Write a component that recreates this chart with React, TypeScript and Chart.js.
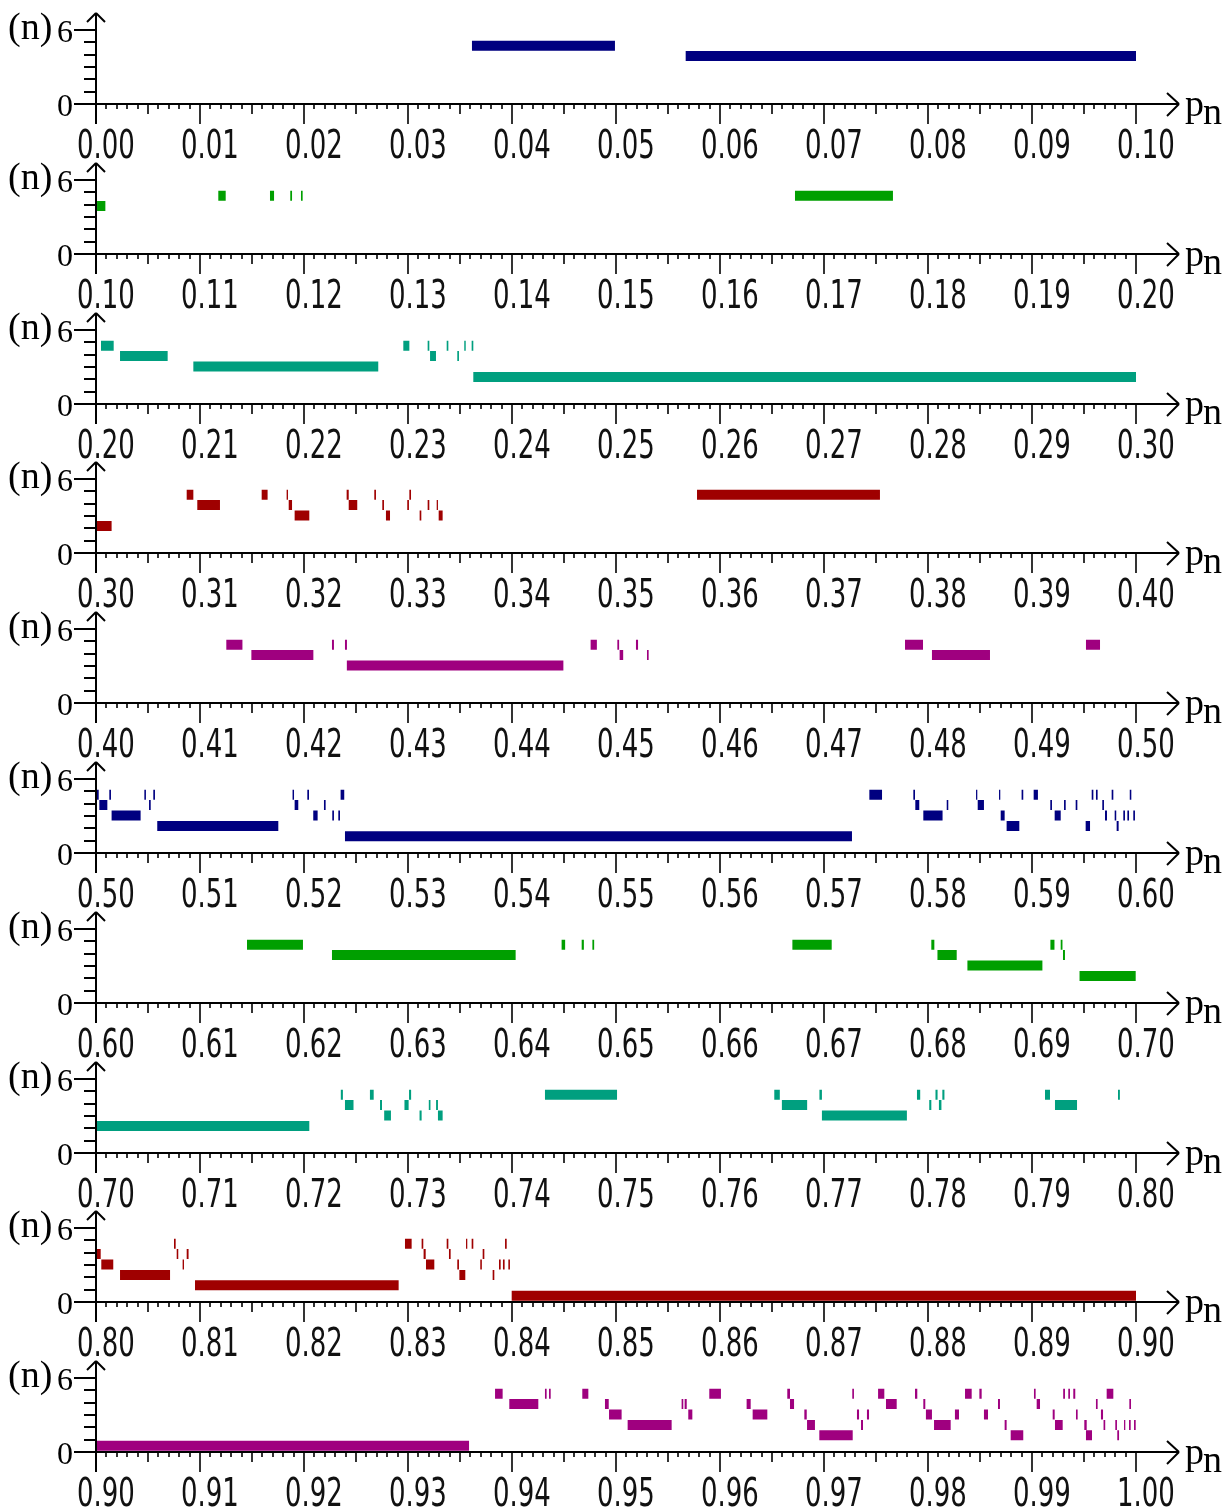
import { useEffect, useRef } from "react";
import { Chart, registerables } from "chart.js";

Chart.register(...registerables);

type Seg = [number, number, number]; // [p start, p end, level index]

const PANEL_STARTS = [0.0, 0.1, 0.2, 0.3, 0.4, 0.5, 0.6, 0.7, 0.8, 0.9];
const PANEL_COLORS = ["#000080", "#009F00", "#009F7F", "#9F0000", "#9F007F", "#000080", "#009F00", "#009F7F", "#9F0000", "#9F007F"];
// n-axis value (centre) of each level, index 1..6
const LEVELS = [0, 4.73, 3.885, 3.04, 2.195, 1.35, 0.505];
const Y_TICKS = [0, 1, 2, 3, 4, 5, 6];
const Y_TICK_LABELS = ["0", "", "", "", "", "", "6"];
const X_TICK_LABELS = [
  "0.00", "0.01", "0.02", "0.03", "0.04", "0.05", "0.06", "0.07", "0.08", "0.09",
  "0.10", "0.11", "0.12", "0.13", "0.14", "0.15", "0.16", "0.17", "0.18", "0.19",
  "0.20", "0.21", "0.22", "0.23", "0.24", "0.25", "0.26", "0.27", "0.28", "0.29",
  "0.30", "0.31", "0.32", "0.33", "0.34", "0.35", "0.36", "0.37", "0.38", "0.39",
  "0.40", "0.41", "0.42", "0.43", "0.44", "0.45", "0.46", "0.47", "0.48", "0.49",
  "0.50", "0.51", "0.52", "0.53", "0.54", "0.55", "0.56", "0.57", "0.58", "0.59",
  "0.60", "0.61", "0.62", "0.63", "0.64", "0.65", "0.66", "0.67", "0.68", "0.69",
  "0.70", "0.71", "0.72", "0.73", "0.74", "0.75", "0.76", "0.77", "0.78", "0.79",
  "0.80", "0.81", "0.82", "0.83", "0.84", "0.85", "0.86", "0.87", "0.88", "0.89",
  "0.90", "0.91", "0.92", "0.93", "0.94", "0.95", "0.96", "0.97", "0.98", "0.99",
  "1.00",
];

const SEG_P1: Seg[] = [
  [0.03615, 0.0499, 1], [0.0567, 0.1, 2],
];
const SEG_P2: Seg[] = [
  [0.1001, 0.1009, 2], [0.11176, 0.11247, 1], [0.11673, 0.11712, 1], [0.11868, 0.11885, 1],
  [0.11971, 0.11987, 1], [0.16721, 0.17663, 1],
];
const SEG_P3: Seg[] = [
  [0.20048, 0.2017, 1], [0.20231, 0.20689, 2], [0.20936, 0.22714, 3], [0.22955, 0.23013, 1],
  [0.23189, 0.23205, 1], [0.23212, 0.23269, 2], [0.23372, 0.23388, 1], [0.23474, 0.2349, 2],
  [0.23541, 0.23555, 1], [0.23612, 0.23628, 1], [0.23628, 0.3, 4],
];
const SEG_P4: Seg[] = [
  [0.30001, 0.3015, 4], [0.30872, 0.30936, 1], [0.30974, 0.31192, 2], [0.31593, 0.3165, 1],
  [0.31833, 0.31846, 1], [0.31853, 0.31885, 2], [0.3191, 0.32051, 3], [0.3241, 0.3243, 1],
  [0.3243, 0.32512, 2], [0.32676, 0.32692, 1], [0.32753, 0.32769, 2], [0.32788, 0.32827, 3],
  [0.32993, 0.33009, 2], [0.33013, 0.33029, 1], [0.33112, 0.33128, 3], [0.33189, 0.33205, 2],
  [0.33276, 0.33288, 2], [0.33295, 0.33333, 3], [0.35779, 0.37538, 1],
];
const SEG_P5: Seg[] = [
  [0.41253, 0.41408, 1], [0.41494, 0.4209, 2], [0.42269, 0.42288, 1], [0.42394, 0.42413, 1],
  [0.42412, 0.44494, 3], [0.44756, 0.44816, 1], [0.45013, 0.4503, 1], [0.45035, 0.45069, 2],
  [0.45192, 0.45212, 1], [0.45298, 0.45314, 2], [0.47779, 0.47952, 1], [0.48038, 0.48596, 2],
  [0.49519, 0.49654, 1],
];
const SEG_P6: Seg[] = [
  [0.50001, 0.50026, 1], [0.50032, 0.50109, 2], [0.50128, 0.50144, 1], [0.5015, 0.50429, 3],
  [0.50465, 0.5048, 1], [0.5051, 0.50526, 2], [0.50551, 0.50567, 1], [0.50589, 0.51753, 4],
  [0.5189, 0.51904, 1], [0.5191, 0.51945, 2], [0.52032, 0.52048, 1], [0.52089, 0.52131, 3],
  [0.52192, 0.52208, 2], [0.52272, 0.52288, 3], [0.5233, 0.52346, 3], [0.52352, 0.52387, 1],
  [0.52394, 0.57269, 5], [0.57436, 0.57558, 1], [0.57859, 0.57875, 1], [0.57878, 0.57916, 2],
  [0.57955, 0.5814, 3], [0.5818, 0.58195, 2], [0.58462, 0.58474, 1], [0.58478, 0.58538, 2],
  [0.58683, 0.58695, 1], [0.58699, 0.58737, 3], [0.58756, 0.58878, 4], [0.589, 0.58916, 1],
  [0.59016, 0.59057, 1], [0.59176, 0.59192, 2], [0.59218, 0.59276, 3], [0.59308, 0.59324, 2],
  [0.5942, 0.59436, 2], [0.59516, 0.59558, 4], [0.59574, 0.5959, 1], [0.59615, 0.59631, 1],
  [0.59676, 0.59692, 2], [0.59702, 0.59721, 3], [0.59766, 0.59782, 1], [0.59795, 0.5981, 3],
  [0.59814, 0.59833, 4], [0.59878, 0.59894, 3], [0.59917, 0.59933, 3], [0.5994, 0.59955, 1],
  [0.59974, 0.5999, 3],
];
const SEG_P7: Seg[] = [
  [0.61452, 0.6199, 1], [0.62269, 0.64035, 2], [0.64477, 0.64511, 1], [0.6467, 0.64691, 1],
  [0.64773, 0.6479, 1], [0.66696, 0.67074, 1], [0.68032, 0.68061, 1], [0.68091, 0.68276, 2],
  [0.68379, 0.691, 3], [0.69177, 0.69216, 1], [0.69276, 0.69293, 1], [0.69298, 0.69317, 2],
  [0.69457, 0.69997, 4],
];
const SEG_P8: Seg[] = [
  [0.7, 0.72051, 4], [0.72354, 0.72374, 1], [0.72394, 0.72476, 2], [0.72634, 0.7267, 1],
  [0.72731, 0.7275, 2], [0.72771, 0.72836, 3], [0.72966, 0.73006, 2], [0.7301, 0.7303, 1],
  [0.73111, 0.73131, 3], [0.732, 0.73216, 2], [0.7327, 0.73288, 2], [0.73288, 0.73333, 3],
  [0.74317, 0.7501, 1], [0.76522, 0.76575, 1], [0.76595, 0.76838, 2], [0.76956, 0.7698, 1],
  [0.7698, 0.77797, 3], [0.77894, 0.77925, 1], [0.78012, 0.78032, 2], [0.78072, 0.78092, 1],
  [0.78105, 0.78129, 2], [0.78138, 0.78158, 1], [0.79125, 0.79173, 1], [0.79221, 0.79433, 2],
  [0.79827, 0.79845, 1],
];
const SEG_P9: Seg[] = [
  [0.80001, 0.80045, 2], [0.80051, 0.80166, 3], [0.80231, 0.80712, 4], [0.8075, 0.80766, 1],
  [0.80776, 0.80791, 2], [0.80833, 0.80846, 3], [0.80872, 0.8089, 2], [0.80952, 0.8291, 5],
  [0.82971, 0.83035, 1], [0.83131, 0.83147, 1], [0.8315, 0.8317, 2], [0.83173, 0.83253, 3],
  [0.83372, 0.83388, 1], [0.83394, 0.8341, 2], [0.83474, 0.8349, 3], [0.83494, 0.83551, 4],
  [0.83558, 0.8357, 1], [0.83612, 0.83628, 1], [0.83695, 0.8371, 3], [0.83718, 0.83734, 2],
  [0.83814, 0.8383, 4], [0.83875, 0.83891, 3], [0.83913, 0.83929, 3], [0.83933, 0.83949, 1],
  [0.83965, 0.8398, 3], [0.83997, 0.9, 6],
];
const SEG_P10: Seg[] = [
  [0.9, 0.93587, 6], [0.93837, 0.9391, 1], [0.93974, 0.94253, 2], [0.94317, 0.94333, 1],
  [0.94356, 0.94372, 1], [0.94676, 0.94734, 1], [0.94894, 0.9493, 2], [0.94933, 0.95054, 3],
  [0.95112, 0.95535, 4], [0.95631, 0.95647, 2], [0.9566, 0.9568, 2], [0.95695, 0.95734, 3],
  [0.95897, 0.96009, 1], [0.96256, 0.96295, 2], [0.96314, 0.96455, 3], [0.96647, 0.96673, 1],
  [0.96673, 0.96712, 2], [0.96811, 0.96834, 3], [0.96837, 0.96913, 4], [0.96955, 0.97276, 5],
  [0.97272, 0.97288, 1], [0.97317, 0.97337, 3], [0.97356, 0.97375, 4], [0.97413, 0.97433, 3],
  [0.9752, 0.9758, 1], [0.97596, 0.97699, 2], [0.97875, 0.97897, 1], [0.97955, 0.97974, 2],
  [0.9798, 0.98038, 3], [0.98058, 0.98218, 4], [0.98259, 0.98298, 3], [0.98356, 0.9842, 1],
  [0.98494, 0.98516, 1], [0.98538, 0.98577, 3], [0.98673, 0.98692, 2], [0.98737, 0.98756, 4],
  [0.98795, 0.98916, 5], [0.99019, 0.99035, 1], [0.99045, 0.99077, 2], [0.99199, 0.99218, 3],
  [0.99221, 0.99295, 4], [0.993, 0.99317, 1], [0.99349, 0.99365, 1], [0.99397, 0.99416, 1],
  [0.99423, 0.99439, 3], [0.99503, 0.99526, 4], [0.99519, 0.99577, 5], [0.99615, 0.99631, 2],
  [0.99663, 0.99683, 3], [0.99688, 0.99704, 4], [0.99718, 0.99782, 1], [0.99801, 0.99817, 4],
  [0.9982, 0.99837, 5], [0.99885, 0.99897, 4], [0.99936, 0.99952, 2], [0.99933, 0.99949, 4],
  [0.99981, 0.99997, 4],
];
const SEGMENTS = [SEG_P1, SEG_P2, SEG_P3, SEG_P4, SEG_P5, SEG_P6, SEG_P7, SEG_P8, SEG_P9, SEG_P10];

const PANEL_PITCH = 149.8;
const CANVAS_W = 1232;
const CANVAS_H = 165;

const axesPlugin = {
  id: "axesPlugin",
  afterDatasetsDraw(chart: any, _args: any, opts: any) {
    const ctx: CanvasRenderingContext2D = chart.ctx;
    const xs = chart.scales.x;
    const ys = chart.scales.y;
    const start: number = opts.start;
    const labels: string[] = opts.labels;
    const x0 = Math.round(xs.getPixelForValue(start));
    const x1 = Math.round(xs.getPixelForValue(start + 0.1));
    const yz = Math.round(ys.getPixelForValue(0));
    const y6 = Math.round(ys.getPixelForValue(6));
    const line = (ax: number, ay: number, bx: number, by: number) => {
      ctx.beginPath();
      ctx.moveTo(ax, ay);
      ctx.lineTo(bx, by);
      ctx.stroke();
    };
    ctx.save();
    ctx.strokeStyle = "#000";
    ctx.fillStyle = "#000";
    ctx.lineWidth = 2;
    ctx.lineCap = "butt";
    // x axis with arrow
    line(x0 - 22, yz, x1 + 43, yz);
    line(x1 + 31, yz - 11, x1 + 43, yz);
    line(x1 + 43, yz, x1 + 31, yz + 12);
    // y axis with arrow
    line(x0, yz + 20, x0, y6 - 17);
    line(x0 - 9, y6 - 8, x0, y6 - 17);
    line(x0, y6 - 17, x0 + 9, y6 - 8);
    // y ticks
    Y_TICKS.forEach((t) => {
      if (t === 0) return;
      const py = Math.round(ys.getPixelForValue(t));
      const len = t === 6 ? 22 : 12;
      line(x0 - len, py, x0, py);
    });
    // x ticks
    ctx.lineWidth = 1.6;
    for (let i = 0; i <= 100; i++) {
      const v = start + i * 0.001;
      const px = Math.round(xs.getPixelForValue(v));
      const len = i % 10 === 0 ? 20 : i % 5 === 0 ? 10 : 5;
      line(px, yz, px, yz + len);
    }
    // x tick labels (tall, narrow digits)
    ctx.fillStyle = "#111";
    for (let i = 0; i <= 10; i++) {
      const px = xs.getPixelForValue(start + i * 0.01);
      ctx.save();
      ctx.translate(px - 19, yz + 54);
      ctx.scale(1, 1.53);
      ctx.font = "26px 'DejaVu Sans'";
      ctx.textAlign = "left";
      ctx.textBaseline = "alphabetic";
      ctx.fillText(labels[i], 0, 0);
      ctx.restore();
    }
    ctx.fillStyle = "#000";
    // y labels
    ctx.font = "32px 'Liberation Serif'";
    ctx.textAlign = "right";
    ctx.textBaseline = "alphabetic";
    ctx.fillText(Y_TICK_LABELS[6], x0 - 23, y6 + 12);
    ctx.fillText(Y_TICK_LABELS[0], x0 - 23, yz + 12);
    // axis titles
    ctx.font = "38px 'Liberation Serif'";
    ctx.textAlign = "left";
    ctx.fillText("(n)", 8, y6 + 9);
    ctx.fillText("p", x1 + 49, yz + 12);
    ctx.fillText("n", x1 + 67, yz + 20);
    ctx.restore();
  },
};

function Panel({ index }: { index: number }) {
  const ref = useRef<HTMLCanvasElement | null>(null);
  useEffect(() => {
    const canvas = ref.current;
    if (!canvas) return;
    const a = PANEL_STARTS[index];
    const data: { x: number; y: number | null }[] = [];
    SEGMENTS[index].forEach(([s, e, l]) => {
      data.push({ x: s, y: LEVELS[l] });
      data.push({ x: e, y: LEVELS[l] });
      data.push({ x: e, y: null });
    });
    const color = PANEL_COLORS[index];
    const chart = new Chart(canvas, {
      type: "line",
      data: {
        datasets: [
          {
            data: data as any,
            borderColor: color,
            backgroundColor: color,
            borderWidth: 10,
            pointRadius: 0,
            pointHoverRadius: 0,
            fill: false,
            tension: 0,
            spanGaps: false,
            borderCapStyle: "butt",
            borderJoinStyle: "miter",
            clip: false as any,
          },
        ],
      },
      options: {
        responsive: false,
        animation: false,
        devicePixelRatio: 1,
        events: [],
        layout: { padding: { left: 96, right: 96, top: 30, bottom: CANVAS_H - 104 } },
        scales: {
          x: { type: "linear", min: a, max: a + 0.1, display: false },
          y: { type: "linear", min: 0, max: 6, display: false },
        },
        plugins: {
          legend: { display: false },
          tooltip: { enabled: false },
          axesPlugin: { start: a, labels: X_TICK_LABELS.slice(index * 10, index * 10 + 11) },
        } as any,
      },
      plugins: [axesPlugin],
    });
    return () => chart.destroy();
  }, [index]);
  return (
    <canvas
      ref={ref}
      width={CANVAS_W}
      height={CANVAS_H}
      style={{ position: "absolute", left: 0, top: Math.round(index * PANEL_PITCH), width: CANVAS_W, height: CANVAS_H }}
    />
  );
}

export default function App() {
  return (
    <div style={{ position: "absolute", left: 0, top: 0, width: 1232, height: 1512, background: "#fff", overflow: "hidden" }}>
      {PANEL_STARTS.map((_, i) => (
        <Panel key={i} index={i} />
      ))}
    </div>
  );
}
